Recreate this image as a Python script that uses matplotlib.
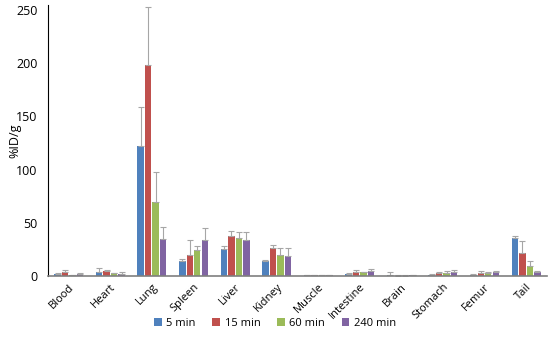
import matplotlib
matplotlib.use("Agg")
import matplotlib.pyplot as plt
import numpy as np

plt.rcParams['font.family'] = ['Open Sans', 'DejaVu Sans']

organs = ["Blood", "Heart", "Lung", "Spleen", "Liver", "Kidney", "Muscle",
          "Intestine", "Brain", "Stomach", "Femur", "Tail"]
series = ["5 min", "15 min", "60 min", "240 min"]
v5 = [1.5, 4, 122, 14, 25, 14, 0.5, 2, 0.5, 1, 1, 36]
v15 = [4, 4.5, 198, 20, 38, 26, 1, 3.5, 0.3, 3, 3, 22]
v60 = [0.5, 2.5, 70, 24, 36, 20, 1, 3.5, 0.3, 3, 2.5, 9]
v240 = [1.5, 2, 35, 34, 34, 19, 1, 4.5, 0.5, 3.5, 3.5, 4]
e5 = [1, 3.5, 37, 2, 3, 1, 0.3, 0.5, 3, 0.5, 0.5, 1.5]
e15 = [2, 1, 55, 14, 4, 3, 0.3, 2, 0.3, 1, 2, 11]
e60 = [0.5, 0.5, 28, 4, 5, 6, 0.3, 0.5, 0.3, 1.5, 1, 5]
e240 = [1, 1.5, 11, 11, 7, 7, 0.3, 2, 0.3, 2, 1.5, 1]
colors = ["#4F81BD", "#C0504D", "#9BBB59", "#8064A2"]

fig = plt.figure(figsize=(5.5, 3.5), dpi=100)
ax = fig.add_axes([0.0873, 0.2114, 0.907, 0.774])

x = np.arange(len(organs))
w = 0.155
pitch = 0.18
vals = [v5, v15, v60, v240]
errs = [e5, e15, e60, e240]
for i, (v, e, c, s) in enumerate(zip(vals, errs, colors, series)):
    ax.bar(x + (i - 1.5) * pitch, v, width=w, color=c, label=s,
           yerr=[np.zeros(len(e)), e],
           error_kw=dict(ecolor="#A6A6A6", elinewidth=0.8, capsize=2.5, capthick=0.8))

ax.set_xlim(-0.5, len(organs) - 0.5)
ax.set_ylim(0, 254.7)
ax.set_yticks([0, 50, 100, 150, 200, 250])
ax.set_xticks(x)
ax.set_xticklabels(organs, rotation=45, ha="right", rotation_mode="anchor", fontsize=8)
ax.tick_params(axis='y', labelsize=9, length=0, pad=7.5)
ax.tick_params(axis='x', length=0, pad=4)
ax.set_ylabel("%ID/g", fontsize=9)
ax.yaxis.set_label_coords(-0.054, 0.5)
for sp in ["top", "right"]:
    ax.spines[sp].set_visible(False)
ax.spines["left"].set_color("#000000")
ax.spines["bottom"].set_color("#7F7F7F")
ax.spines["bottom"].set_linewidth(1.2)

fig.legend(loc="center", ncol=4, frameon=False, fontsize=8,
           bbox_to_anchor=(0.5, 0.075), handlelength=0.7, handleheight=0.7,
           handletextpad=0.4, columnspacing=1.5)
fig.savefig("out.png", dpi=100)
